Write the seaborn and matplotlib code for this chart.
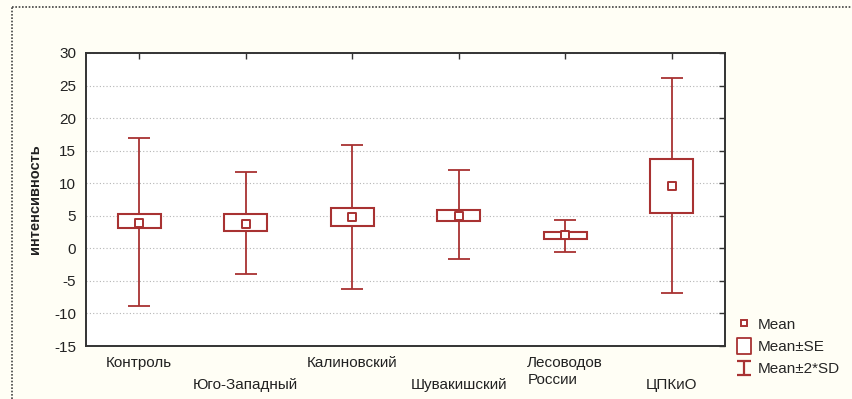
import matplotlib
matplotlib.use("Agg")
import matplotlib.pyplot as plt
from matplotlib.lines import Line2D
from matplotlib.path import Path
import numpy as np
import seaborn as sns

groups = ["Контроль", "Юго-Западный", "Калиновский", "Шувакишский", "Лесоводов\nРоссии", "ЦПКиО"]
means = [3.9, 3.75, 4.8, 5.0, 2.0, 9.65]
se_low = [3.1, 2.6, 3.5, 4.15, 1.4, 5.5]
se_high = [5.3, 5.2, 6.15, 5.95, 2.5, 13.7]
sd_low = [-8.8, -3.9, -6.25, -1.6, -0.6, -6.8]
sd_high = [17.0, 11.7, 15.9, 12.0, 4.4, 26.1]
yticks = [-15, -10, -5, 0, 5, 10, 15, 20, 25, 30]

RED = "#a83232"
BG = "#fffef5"

sns.set_style("white")
plt.rcParams["font.family"] = ["Liberation Sans", "DejaVu Sans"]

fig = plt.figure(figsize=(8.53, 3.99), dpi=100, facecolor=BG)
ax = fig.add_axes([86 / 853, 1 - 346 / 399, 639 / 853, 293 / 399])
ax.set_facecolor("white")

x = np.arange(len(groups))
means = np.array(means)
se_low, se_high = np.array(se_low), np.array(se_high)
sd_low, sd_high = np.array(sd_low), np.array(sd_high)

# whiskers (mean +- 2*SD)
ax.errorbar(x, means, yerr=[means - sd_low, sd_high - means], fmt="none",
            ecolor=RED, elinewidth=1.3, capsize=8, capthick=1.3, zorder=2)
# boxes (mean +- SE)
ax.bar(x, se_high - se_low, bottom=se_low, width=0.4, color="white",
       edgecolor=RED, linewidth=1.5, zorder=3)
# mean points
sns.scatterplot(x=x, y=means, marker="s", s=28, color="white",
                edgecolor=RED, linewidth=1.4, ax=ax, zorder=4)

ax.set_xlim(-0.5, len(groups) - 0.5)
ax.set_ylim(-15, 30)
ax.set_yticks(yticks)
ax.set_yticklabels([str(v) for v in yticks], fontsize=11, color="#222222")
ax.yaxis.grid(True, linestyle=(0, (1, 2)), color="#b5b5b5", linewidth=0.8)
ax.set_axisbelow(True)

ax.set_xticks(x)
labels = []
for i, g in enumerate(groups):
    labels.append(g if i % 2 == 0 else "\n" + g)
ax.set_xticklabels(labels, fontsize=11, color="#222222")
for i, t in enumerate(ax.get_xticklabels()):
    if i % 2 == 1:
        t.set_linespacing(1.75)
    else:
        t.set_linespacing(1.3)
    t.set_multialignment("left")

ax.tick_params(direction="in", top=True, right=True, length=4, width=1,
               color="#333333")
ax.tick_params(axis="y", pad=7)
ax.tick_params(axis="x", pad=7)
for sp in ax.spines.values():
    sp.set_color("#333333")
    sp.set_linewidth(1.4)

ax.set_ylabel("интенсивность", fontsize=10.5, fontweight="semibold",
              color="#222222", labelpad=9)

# legend
box_path = Path([(-0.4, -0.5), (0.4, -0.5), (0.4, 0.5), (-0.4, 0.5), (-0.4, -0.5)],
                [Path.MOVETO, Path.LINETO, Path.LINETO, Path.LINETO, Path.CLOSEPOLY])
ibeam_path = Path([(-0.5, 0.5), (0.5, 0.5), (0, 0.5), (0, -0.5), (-0.5, -0.5), (0.5, -0.5)],
                  [Path.MOVETO, Path.LINETO, Path.MOVETO, Path.LINETO, Path.MOVETO, Path.LINETO])
handles = [
    Line2D([], [], linestyle="none", marker="s", markersize=5, mfc="white",
           mec=RED, mew=1.4),
    Line2D([], [], linestyle="none", marker=box_path, markersize=12, mfc="white",
           mec=RED, mew=1.3),
    Line2D([], [], linestyle="none", marker=ibeam_path, markersize=10.5, mfc="none",
           mec=RED, mew=1.6),
]
fig.legend(handles, ["Mean", "Mean±SE", "Mean±2*SD"], loc="center left",
           bbox_to_anchor=(729 / 853, 1 - 347 / 399), frameon=False,
           fontsize=11, handlelength=1.0, handletextpad=0.35,
           labelspacing=0.55, borderpad=0)

# dotted border of the original panel
fig.add_artist(Line2D([12 / 853, 12 / 853], [0, 1 - 7 / 399], transform=fig.transFigure,
                      color="#444444", linestyle=(0, (1, 1)), linewidth=1.2))
fig.add_artist(Line2D([12 / 853, 1], [1 - 7 / 399, 1 - 7 / 399], transform=fig.transFigure,
                      color="#444444", linestyle=(0, (1, 1)), linewidth=1.2))

fig.savefig("out.png", dpi=100, facecolor=BG)
